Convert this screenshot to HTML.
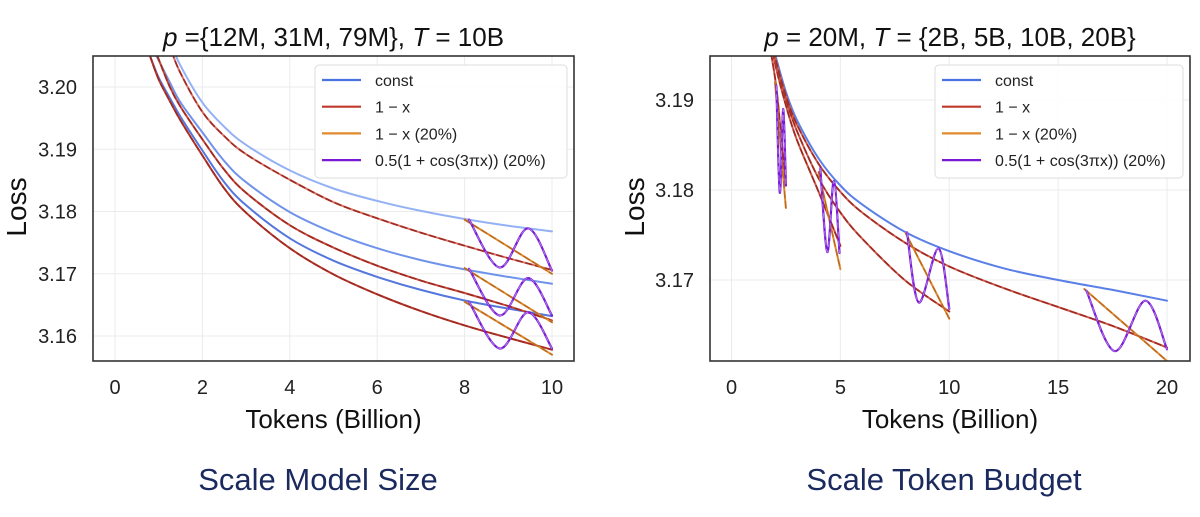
<!DOCTYPE html>
<html><head><meta charset="utf-8"><style>
html,body{margin:0;padding:0;background:#fff;}
body{width:1200px;height:512px;overflow:hidden;font-family:"Liberation Sans","DejaVu Sans",sans-serif;}
svg text{font-family:"Liberation Sans","DejaVu Sans",sans-serif;}
</style></head><body>
<svg id="fig" width="1200" height="512" viewBox="0 0 1200 512"></svg>
<script>
// ---------- Left chart data (Scale Model Size) ----------
const leftXTicks = [0, 2, 4, 6, 8, 10];
const leftYTicks = [3.16, 3.17, 3.18, 3.19, 3.20];
const leftConstX = [[1.3,1.5,2,2.5,3,4,5,6,7,8,9,10],
                    [0.95,1.25,1.5,2,2.5,3,4,5,6,7,8,9,10],
                    [0.8,1.0,1.25,1.5,2,2.5,3,4,5,6,7,8,9,10]];
const leftConstY = [[3.2066,3.2034,3.1975,3.1936,3.1907,3.1866,3.1837,3.1817,3.1801,3.1788,3.1777,3.1768],
                    [3.2050,3.2008,3.1975,3.1927,3.1881,3.1847,3.1799,3.1766,3.1741,3.1722,3.1707,3.1695,3.1684],
                    [3.2050,3.2015,3.1983,3.1952,3.1898,3.1847,3.1810,3.1757,3.1721,3.1695,3.1674,3.1657,3.1644,3.1632]];
const leftRedX = [[1.3,1.5,2,2.5,3,4,5,6,7,8,9,10],
                  [0.97,1.25,1.5,2,2.5,3,4,5,6,7,8,9,10],
                  [0.8,1.0,1.25,1.5,2,2.5,3,4,5,6,7,8,9,10]];
const leftRedY = [[3.2056,3.2022,3.1960,3.1921,3.1892,3.1851,3.1815,3.1789,3.1766,3.1745,3.1725,3.1706],
                  [3.2050,3.2001,3.1968,3.1916,3.1867,3.1830,3.1778,3.1742,3.1713,3.1689,3.1669,3.1648,3.1625],
                  [3.2050,3.2012,3.1978,3.1946,3.1890,3.1837,3.1798,3.1741,3.1699,3.1667,3.1640,3.1617,3.1597,3.1578]];
const leftOrangeX = [[8,10],[8,10],[8,10]];
const leftOrangeY = [[3.1787,3.170],[3.1709,3.1622],[3.1655,3.157]];
const leftPurpleX = [[8.1,8.8,9.45,10],[8.1,8.8,9.45,10],[8.1,8.8,9.45,10]];
const leftPurpleY = [[3.1787,3.171,3.1773,3.1705],[3.1708,3.1633,3.1693,3.1633],[3.1655,3.158,3.1638,3.158]];
const leftConstColors = ['#93b1f4','#6f93ea','#5577dd'];
const leftRedColors = ['#d9756a','#c94a3c','#b8352a'];

// ---------- Right chart data (Scale Token Budget) ----------
const rightXTicks = [0, 5, 10, 15, 20];
const rightYTicks = [3.17, 3.18, 3.19];
const rightConstX = [1.8,2,2.5,3,4,5,6,8,10,12.5,15,17.5,20];
const rightConstY = [3.1970,3.1951,3.1909,3.1878,3.1835,3.1805,3.1784,3.1753,3.1732,3.1713,3.1700,3.1689,3.1677];
const rightRedX = [[1.5,2,2.25,2.5],[1.5,2,2.5,3,4,5],[1.5,2,2.5,3,4,5,6,8,10],[1.5,2,2.5,3,4,5,6,8,10,12.5,15,17.5,20]];
const rightRedY = [[3.1995,3.1925,3.1868,3.1805],[3.2007,3.1941,3.1894,3.1856,3.1798,3.1738],
                   [3.2007,3.1946,3.1901,3.1866,3.1813,3.1775,3.1746,3.1699,3.1665],
                   [3.2009,3.1948,3.1905,3.1873,3.1829,3.1798,3.1775,3.1741,3.1715,3.1691,3.1670,3.1649,3.1625]];
const rightOrangeX = [[2.0,2.5],[4.0,5],[8,10],[16.2,20]];
const rightOrangeY = [[3.192,3.178],[3.182,3.1712],[3.1752,3.1657],[3.169,3.161]];
const rightPurpleX = [[2.06,2.22,2.37,2.5],[4.08,4.4,4.7,4.96],[8.06,8.6,9.5,10],[16.3,17.6,19,20]];
const rightPurpleY = [[3.1916,3.1797,3.189,3.1805],[3.1824,3.1731,3.181,3.173],[3.1753,3.1675,3.1735,3.1668],[3.1688,3.1621,3.1677,3.1623]];

const legendLabels = ['const','1 − x','1 − x (20%)','0.5(1 + cos(3πx)) (20%)'];
const legendColors = ['#4a72e0','#c0392b','#e08a2c','#7a1ad6'];

const NS = 'http://www.w3.org/2000/svg';
const svg = document.getElementById('fig');
function mk(tag, attrs, parent){
  const e = document.createElementNS(NS, tag);
  for (const k in attrs) e.setAttribute(k, attrs[k]);
  (parent||svg).appendChild(e);
  return e;
}
function smoothPath(pts){
  if (pts.length < 3) return 'M' + pts.map(p=>p[0].toFixed(1)+','+p[1].toFixed(1)).join('L');
  let d = 'M'+pts[0][0].toFixed(1)+','+pts[0][1].toFixed(1);
  for (let i=0;i<pts.length-1;i++){
    const p0 = pts[i-1]||pts[i], p1 = pts[i], p2 = pts[i+1], p3 = pts[i+2]||pts[i+1];
    const c1 = [p1[0]+(p2[0]-p0[0])/6, p1[1]+(p2[1]-p0[1])/6];
    const c2 = [p2[0]-(p3[0]-p1[0])/6, p2[1]-(p3[1]-p1[1])/6];
    d += 'C'+c1[0].toFixed(1)+','+c1[1].toFixed(1)+' '+c2[0].toFixed(1)+','+c2[1].toFixed(1)+' '+p2[0].toFixed(1)+','+p2[1].toFixed(1);
  }
  return d;
}

function drawChart(cfg){
  const g = mk('g', {});
  
  
  const sx = v => cfg.x0px + (v - cfg.x0v) * (cfg.x1px - cfg.x0px) / (cfg.x1v - cfg.x0v);
  const sy = v => cfg.y0px + (v - cfg.y0v) * (cfg.y1px - cfg.y0px) / (cfg.y1v - cfg.y0v);
  const clip = mk('clipPath', {id: cfg.name+'-clip'}, g);
  mk('rect', {x: cfg.bx, y: cfg.by, width: cfg.bw, height: cfg.bh}, clip);
  cfg.xTicks.forEach(t => {
    const l = mk('line', {x1: sx(t), x2: sx(t), y1: cfg.by, y2: cfg.by+cfg.bh, stroke: '#ebebeb', 'stroke-width': 1}, g);
    
    
    const tx = mk('text', {x: sx(t), y: 394, 'font-size': 20, 'text-anchor': 'middle', fill: '#222'}, g);
    tx.textContent = t;
    
    
  });
  cfg.yTicks.forEach(t => {
    const l = mk('line', {x1: cfg.bx, x2: cfg.bx+cfg.bw, y1: sy(t), y2: sy(t), stroke: '#ebebeb', 'stroke-width': 1}, g);
    
    
    const tx = mk('text', {x: cfg.bx-16, y: sy(t)+7, 'font-size': 20, 'text-anchor': 'end', fill: '#222'}, g);
    tx.textContent = t.toFixed(2);
    
    
  });
  const lines = mk('g', {'clip-path': 'url(#'+cfg.name+'-clip)', fill: 'none', 'stroke-linejoin': 'round', 'stroke-linecap': 'round'}, g);
  function series(xs, ys, color, w, name, dash){
    const pts = xs.map((x,i)=>[sx(x), sy(ys[i])]);
    const p = mk('path', {d: smoothPath(pts), stroke: color, 'stroke-width': w}, lines);
    if (dash) p.setAttribute('stroke-dasharray', dash);
    
    
  }
  cfg.constX.forEach((xs,i)=> series(xs, cfg.constY[i], cfg.constColors[i], 2, 'const-line'));
  cfg.redX.forEach((xs,i)=> { series(xs, cfg.redY[i], cfg.redColors[i], 2, 'linear-decay-line'); series(xs, cfg.redY[i], '#9e2a22', 1.6, 'linear-decay-fit', '6 4'); });
  cfg.orangeX.forEach((xs,i)=> { series(xs, cfg.orangeY[i], '#e08a2c', 2, 'cooldown-linear-line'); series(xs, cfg.orangeY[i], '#b86a20', 1.4, 'cooldown-linear-fit', '6 4'); });
  cfg.purpleX.forEach((xs,i)=> { series(xs, cfg.purpleY[i], '#7a1ad6', 2.2, 'cooldown-cosine-line'); series(xs, cfg.purpleY[i], '#b07ae8', 1, 'cooldown-cosine-fit', '5 4'); });
  const box = mk('rect', {x: cfg.bx, y: cfg.by, width: cfg.bw, height: cfg.bh, fill: 'none', stroke: '#333', 'stroke-width': 1.6}, g);
  
  
  const tt = mk('text', {x: cfg.bx + cfg.bw/2, y: 46, 'font-size': 26, 'text-anchor': 'middle', fill: '#111'}, g);
  tt.innerHTML = cfg.title;
  
  
  const xl = mk('text', {x: cfg.bx + cfg.bw/2, y: 428, 'font-size': 26, 'text-anchor': 'middle', fill: '#111'}, g);
  xl.textContent = 'Tokens (Billion)';
  
  
  const yl = mk('text', {x: 0, y: 0, 'font-size': 28, 'text-anchor': 'middle', fill: '#111', transform: 'translate('+cfg.lossX+',207) rotate(-90)'}, g);
  yl.textContent = 'Loss';
  
  
  const lg = mk('g', {}, g);
  
  
  mk('rect', {x: cfg.lgx, y: 65, width: cfg.lgw, height: 113, rx: 4, fill: '#fff', 'fill-opacity': 0.9, stroke: '#ddd', 'stroke-width': 1}, lg);
  legendLabels.forEach((lab,i)=>{
    const y = 80 + i*26.7;
    const e = mk('g', {}, lg);
    
    
    mk('line', {x1: cfg.lgx+7, x2: cfg.lgx+46, y1: y, y2: y, stroke: legendColors[i], 'stroke-width': 2.2}, e);
    const t = mk('text', {x: cfg.lgx+60, y: y+6, 'font-size': 16, fill: '#222'}, e);
    t.textContent = lab;
  });
}

drawChart({name:'left-chart', bx:93, by:56, bw:481, bh:305,
  x0v:0, x1v:10, x0px:115, x1px:552, y0v:3.16, y1v:3.20, y0px:336, y1px:87,
  xTicks:leftXTicks, yTicks:leftYTicks, lossX:26, lgx:315, lgw:252,
  title:'<tspan font-style="italic">p</tspan> ={12M, 31M, 79M}, <tspan font-style="italic">T</tspan> = 10B',
  constX:leftConstX, constY:leftConstY, constColors:leftConstColors,
  redX:leftRedX, redY:leftRedY, redColors:leftRedColors,
  orangeX:leftOrangeX, orangeY:leftOrangeY, purpleX:leftPurpleX, purpleY:leftPurpleY});

drawChart({name:'right-chart', bx:710, by:56, bw:480, bh:305,
  x0v:0, x1v:20, x0px:731.5, x1px:1167, y0v:3.17, y1v:3.19, y0px:280, y1px:100,
  xTicks:rightXTicks, yTicks:rightYTicks, lossX:644, lgx:935, lgw:248,
  title:'<tspan font-style="italic">p</tspan> = 20M, <tspan font-style="italic">T</tspan> = {2B, 5B, 10B, 20B}',
  constX:[rightConstX], constY:[rightConstY], constColors:['#5a7fe6'],
  redX:rightRedX, redY:rightRedY, redColors:['#cf5a4c','#cf5a4c','#cf5a4c','#cf5a4c'],
  orangeX:rightOrangeX, orangeY:rightOrangeY, purpleX:rightPurpleX, purpleY:rightPurpleY});

const c1 = mk('text', {x: 318, y: 490, 'font-size': 31, 'text-anchor': 'middle', fill: '#1b2a5e'});
c1.textContent = 'Scale Model Size';


const c2 = mk('text', {x: 944, y: 490, 'font-size': 31, 'text-anchor': 'middle', fill: '#1b2a5e'});
c2.textContent = 'Scale Token Budget';


</script>
</body></html>
